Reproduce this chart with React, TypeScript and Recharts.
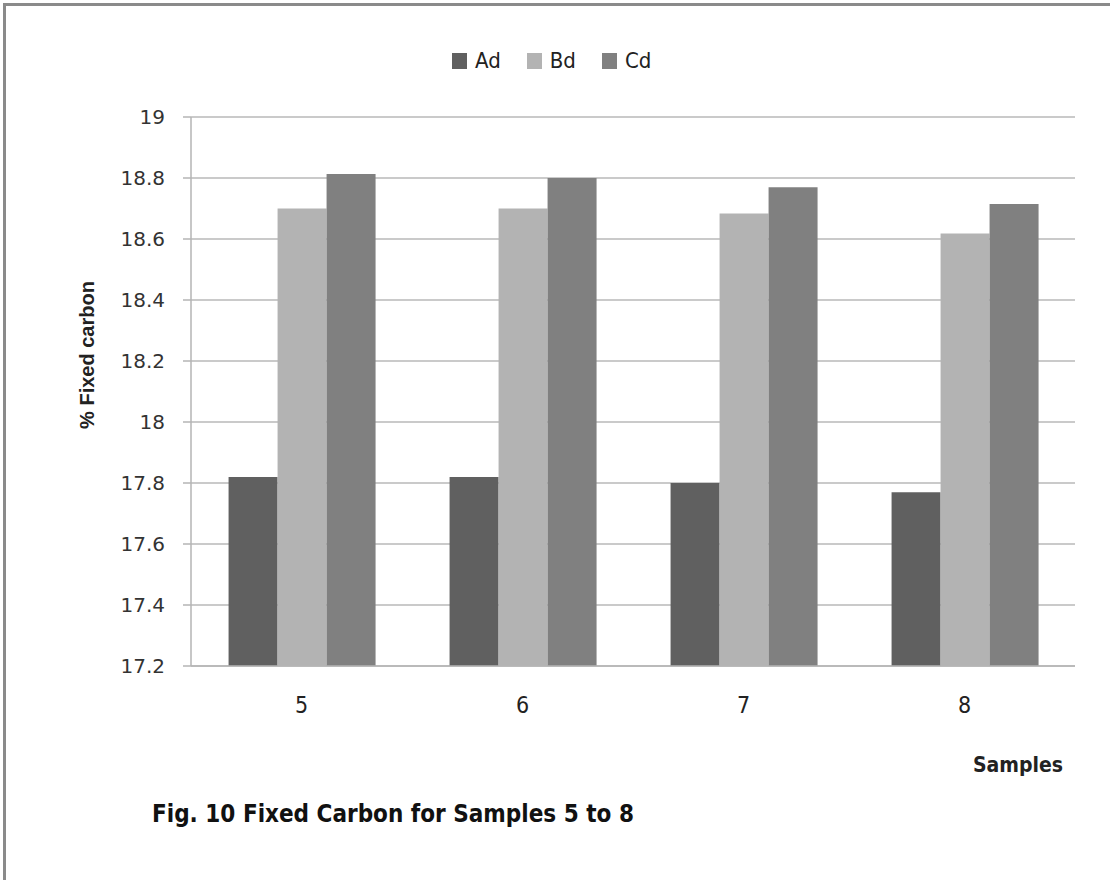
import { BarChart, Bar, XAxis, YAxis, CartesianGrid } from 'recharts'

const samples = ['5', '6', '7', '8']
const adValues = [17.82, 17.82, 17.8, 17.77]
const bdValues = [18.7, 18.7, 18.684, 18.618]
const cdValues = [18.813, 18.8, 18.77, 18.715]
const yTicks = [17.2, 17.4, 17.6, 17.8, 18, 18.2, 18.4, 18.6, 18.8, 19]

const series = [
  { key: 'Ad', color: '#606060' },
  { key: 'Bd', color: '#b3b3b3' },
  { key: 'Cd', color: '#808080' },
]

const data = samples.map((s, i) => ({
  name: s,
  Ad: adValues[i],
  Bd: bdValues[i],
  Cd: cdValues[i],
}))

const narrow = "'Liberation Sans Narrow', 'DejaVu Sans Condensed', sans-serif"

function LegendRow() {
  return (
    <div
      style={{
        position: 'absolute',
        top: 48,
        left: 452,
        display: 'flex',
        gap: 26,
        fontFamily: narrow,
        fontSize: 22,
        lineHeight: '26px',
        color: '#222',
      }}
    >
      {series.map((s) => (
        <span key={s.key} style={{ display: 'flex', alignItems: 'center', gap: 8 }}>
          <span style={{ width: 15, height: 16, background: s.color, display: 'inline-block' }} />
          <span>{s.key}</span>
        </span>
      ))}
    </div>
  )
}

export default function App() {
  return (
    <div
      style={{
        position: 'absolute',
        left: 0,
        top: 0,
        width: 1110,
        height: 880,
        background: '#fff',
        overflow: 'hidden',
      }}
    >
      <div
        style={{
          position: 'absolute',
          left: 3,
          top: 3,
          width: 1120,
          height: 900,
          borderTop: '3px solid #8a8a8a',
          borderLeft: '3px solid #8a8a8a',
        }}
      />
      <LegendRow />
      <BarChart
        width={1110}
        height={880}
        data={data}
        margin={{ top: 117, right: 35, left: 0, bottom: 184 }}
        barCategoryGap="17%"
        barGap={0}
        style={{ position: 'absolute', left: 0, top: 0 }}
      >
        <CartesianGrid vertical={false} stroke="#b8b8b8" strokeWidth={1.5} />
        <XAxis
          dataKey="name"
          tickLine={false}
          axisLine={{ stroke: '#b4b4b4', strokeWidth: 1.5 }}
          tick={{ fill: '#222', fontSize: 23, fontFamily: narrow }}
          tickMargin={25}
          height={30}
        />
        <YAxis
          width={191}
          domain={[17.2, 19]}
          ticks={yTicks}
          interval={0}
          allowDataOverflow
          tickSize={8}
          tickLine={{ stroke: '#b4b4b4', strokeWidth: 1.5 }}
          axisLine={{ stroke: '#b4b4b4', strokeWidth: 1.5 }}
          tick={{ fill: '#333', fontSize: 20, fontFamily: "'DejaVu Sans', sans-serif" }}
          tickMargin={18}
        />
        {series.map((s) => (
          <Bar key={s.key} dataKey={s.key} fill={s.color} isAnimationActive={false} />
        ))}
      </BarChart>
      <div
        style={{
          position: 'absolute',
          left: 87,
          top: 355,
          transform: 'translate(-50%, -50%) rotate(-90deg)',
          whiteSpace: 'nowrap',
          fontFamily: "'Liberation Sans', sans-serif",
          fontWeight: 'bold',
          fontSize: 20,
          color: '#222',
        }}
      >
        % Fixed carbon
      </div>
      <div
        style={{
          position: 'absolute',
          left: 973,
          top: 753,
          fontFamily: narrow,
          fontWeight: 'bold',
          fontSize: 21,
          color: '#222',
        }}
      >
        Samples
      </div>
      <div
        style={{
          position: 'absolute',
          left: 152,
          top: 800,
          fontFamily: narrow,
          fontWeight: 'bold',
          fontSize: 24,
          color: '#111',
        }}
      >
        Fig. 10 Fixed Carbon for Samples 5 to 8
      </div>
    </div>
  )
}
